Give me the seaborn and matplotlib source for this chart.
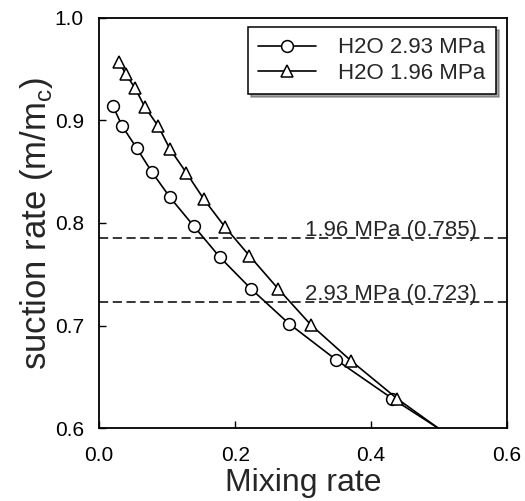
import matplotlib
matplotlib.use("Agg")
import matplotlib.pyplot as plt
import seaborn as sns
import pandas as pd

# data (last point of each series is the curve end, no marker)
mix_293 = [0.020, 0.034, 0.055, 0.077, 0.104, 0.139, 0.177, 0.223, 0.279, 0.348, 0.431, 0.499]
suc_293 = [0.914, 0.894, 0.873, 0.850, 0.825, 0.797, 0.767, 0.736, 0.702, 0.667, 0.629, 0.600]

mix_196 = [0.029, 0.039, 0.053, 0.067, 0.087, 0.104, 0.128, 0.154, 0.185, 0.221, 0.263, 0.311, 0.370, 0.438, 0.499]
suc_196 = [0.957, 0.945, 0.931, 0.913, 0.894, 0.872, 0.849, 0.823, 0.796, 0.768, 0.736, 0.701, 0.666, 0.629, 0.600]

ref_levels = [0.785, 0.723]
ref_labels = ["1.96 MPa (0.785)", "2.93 MPa (0.723)"]

x_ticks = [0.0, 0.2, 0.4, 0.6]
y_ticks = [0.6, 0.7, 0.8, 0.9, 1.0]

sns.set_style("ticks")
plt.rcParams['font.family'] = ['Liberation Sans', 'DejaVu Sans']

fig, ax = plt.subplots(figsize=(5.25, 5.01), dpi=100)
fig.subplots_adjust(left=0.189, right=0.966, top=0.965, bottom=0.145)

df1 = pd.DataFrame({"x": mix_293, "y": suc_293})
df2 = pd.DataFrame({"x": mix_196, "y": suc_196})

sns.lineplot(data=df1, x="x", y="y", ax=ax, color="black", linewidth=1.2,
             marker="o", markersize=8.5, markerfacecolor="white", markeredgecolor="black",
             markeredgewidth=1.1, markevery=list(range(len(mix_293) - 1)),
             label="H2O 2.93 MPa")
sns.lineplot(data=df2, x="x", y="y", ax=ax, color="black", linewidth=1.2,
             marker="^", markersize=9, markerfacecolor="white", markeredgecolor="black",
             markeredgewidth=1.1, markevery=list(range(len(mix_196) - 1)),
             label="H2O 1.96 MPa")

# reference levels
for lev, lab in zip(ref_levels, ref_labels):
    ax.axhline(lev, color="black", linestyle=(0, (6, 3)), linewidth=1.1)
    ax.text(0.556, lev + 0.002, lab, ha="right", va="baseline", fontsize=16)

ax.set_xlim(0, 0.6)
ax.set_ylim(0.6, 1.0)
ax.set_xticks(x_ticks)
ax.set_yticks(y_ticks)
ax.set_xticklabels([f"{v:.1f}" for v in x_ticks])
ax.set_yticklabels([f"{v:.1f}" for v in y_ticks])
ax.tick_params(direction="in", length=5, width=1, labelsize=15, colors="black")
ax.tick_params(axis="x", pad=13)
ax.tick_params(axis="y", pad=11)
ax.set_xlabel("Mixing rate", fontsize=23, labelpad=2)
ax.set_ylabel("suction rate (m/m$_\\mathregular{c}$)", fontsize=25, labelpad=0)

for s in ax.spines.values():
    s.set_linewidth(1.3)
    s.set_color("black")

leg = ax.legend(loc="upper right", bbox_to_anchor=(0.972, 0.976), borderaxespad=0,
                fontsize=16, frameon=True, fancybox=False, shadow=True,
                handlelength=2.6, borderpad=0.45, labelspacing=0.2, handletextpad=1.0)
leg.get_frame().set_edgecolor("black")
leg.get_frame().set_linewidth(1.1)

plt.savefig("out.png", dpi=100)
plt.close()
